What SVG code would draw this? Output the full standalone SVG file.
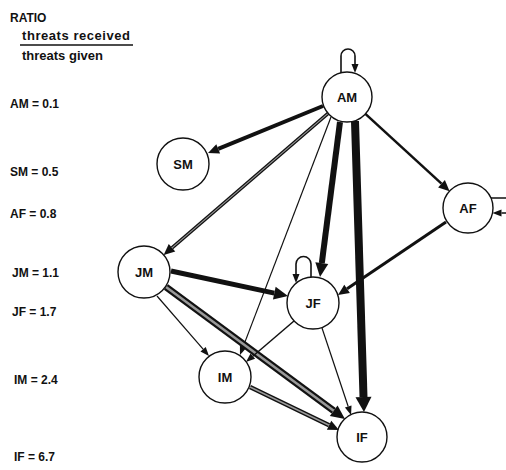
<svg xmlns="http://www.w3.org/2000/svg" width="506" height="470" viewBox="0 0 506 470">
<style>
  text { font-family: "Liberation Sans", Arial, sans-serif; font-weight: bold; fill: #111; }
  .lbl { font-size: 12px; }
  .hd { font-size: 13px; }
  .nl { font-size: 13px; text-anchor: middle; dominant-baseline: central; }
  .node circle { fill: #fff; stroke: #111; stroke-width: 1.4; }
  .e { fill: none; stroke: #111; stroke-linecap: butt; }
  .inner { fill: none; stroke: #999; stroke-linecap: butt; }
</style>
<defs>
  <marker id="s" markerUnits="userSpaceOnUse" markerWidth="10" markerHeight="8" refX="0" refY="4" orient="auto" overflow="visible">
    <path d="M0,0.5 L9,4 L0,7.5 Z" fill="#111"/>
  </marker>
  <marker id="m" markerUnits="userSpaceOnUse" markerWidth="12" markerHeight="10" refX="0" refY="5" orient="auto" overflow="visible">
    <path d="M0,0 L11,5 L0,10 Z" fill="#111"/>
  </marker>
  <marker id="l" markerUnits="userSpaceOnUse" markerWidth="15" markerHeight="13" refX="0" refY="6.5" orient="auto" overflow="visible">
    <path d="M0,0 L14,6.5 L0,13 Z" fill="#111"/>
  </marker>
  <marker id="xl" markerUnits="userSpaceOnUse" markerWidth="16" markerHeight="16" refX="0" refY="8" orient="auto" overflow="visible">
    <path d="M0,0 L15,8 L0,16 Z" fill="#111"/>
  </marker>
</defs>

<g id="legend">
  <text class="lbl" x="10" y="22">RATIO</text>
  <text class="hd" x="22" y="40" textLength="108" lengthAdjust="spacing">threats received</text>
  <line x1="20" y1="45" x2="133" y2="45" stroke="#111" stroke-width="1.6"/>
  <text class="hd" x="22" y="60">threats given</text>
  <text class="lbl" x="10" y="108">AM = 0.1</text>
  <text class="lbl" x="10" y="176">SM = 0.5</text>
  <text class="lbl" x="10" y="218">AF = 0.8</text>
  <text class="lbl" x="12" y="277">JM = 1.1</text>
  <text class="lbl" x="12" y="316">JF = 1.7</text>
  <text class="lbl" x="14" y="384">IM = 2.4</text>
  <text class="lbl" x="14" y="461">IF = 6.7</text>
</g>

<g id="connectors">
  <!-- AM -> SM -->
  <path class="e" d="M323,106 L218.2,148.8" stroke-width="4" marker-end="url(#m)"/>
  <!-- AM -> AF -->
  <path class="e" d="M365.4,113.9 L441.5,183.7" stroke-width="2.5" marker-end="url(#m)"/>
  <!-- AM -> JM (double) -->
  <path class="e" d="M328.1,113.3 L172,247.8" stroke-width="3.5" marker-end="url(#m)"/>
  <path class="inner" d="M328.1,113.3 L172,247.8" stroke-width="1.1"/>
  <!-- AM -> JF -->
  <path class="e" d="M340,122 L321.8,263.1" stroke-width="6" marker-end="url(#l)"/>
  <!-- AM -> IM -->
  <path class="e" d="M331,117 L243.2,346.6" stroke-width="1.2" marker-end="url(#s)"/>
  <!-- AM -> IF -->
  <path class="e" d="M355,121 L363.5,397" stroke-width="8" marker-end="url(#xl)"/>
  <!-- AF -> JF -->
  <path class="e" d="M446,222 L347.1,288.8" stroke-width="3" marker-end="url(#m)"/>
  <!-- JM -> JF -->
  <path class="e" d="M171,271 L274.3,293.1" stroke-width="5" marker-end="url(#l)"/>
  <!-- JM -> IF (double thick) -->
  <path class="e" d="M166,287 L333.7,410.7" stroke-width="7" marker-end="url(#l)"/>
  <path class="inner" d="M166,287 L333.7,410.7" stroke-width="2.5" stroke="#666"/>
  <!-- JM -> IM -->
  <path class="e" d="M157,296 L203.1,349.2" stroke-width="1.2" marker-end="url(#s)"/>
  <!-- JF -> IM -->
  <path class="e" d="M294,321 L252.8,356.2" stroke-width="1.5" marker-end="url(#s)"/>
  <!-- JF -> IF -->
  <path class="e" d="M322,328 L348.2,406.5" stroke-width="1.2" marker-end="url(#s)"/>
  <!-- IM -> IF (double) -->
  <path class="e" d="M250,387 L329.1,425.2" stroke-width="4.5" marker-end="url(#m)"/>
  <path class="inner" d="M250,387 L329.1,425.2" stroke-width="1.5"/>
  <!-- AM self loop -->
  <path class="e" d="M341,73 V56 A7,7 0 0 1 355,56 V64" stroke-width="1.6" marker-end="url(#s)"/>
  <!-- JF self loop -->
  <path class="e" d="M311,277 V264 A7.5,7.5 0 0 0 296,264 V274" stroke-width="1.6" marker-end="url(#s)"/>
  <!-- AF self loop -->
  <path class="e" d="M491,198 H506 A7.5,7.5 0 0 1 506,213 H501.5" stroke-width="1.6" marker-end="url(#s)"/>
</g>

<g id="node-AM" class="node"><circle cx="347" cy="97" r="25"/><text class="nl" x="347" y="97">AM</text></g>
<g id="node-SM" class="node"><circle cx="183" cy="164" r="26"/><text class="nl" x="183" y="164">SM</text></g>
<g id="node-AF" class="node"><circle cx="468" cy="208" r="25"/><text class="nl" x="468" y="208">AF</text></g>
<g id="node-JM" class="node"><circle cx="144" cy="272" r="26"/><text class="nl" x="144" y="272">JM</text></g>
<g id="node-JF" class="node"><circle cx="313" cy="303" r="26"/><text class="nl" x="313" y="303">JF</text></g>
<g id="node-IM" class="node"><circle cx="225" cy="377" r="26"/><text class="nl" x="225" y="377">IM</text></g>
<g id="node-IF" class="node"><circle cx="362" cy="437" r="25"/><text class="nl" x="362" y="437">IF</text></g>
</svg>
